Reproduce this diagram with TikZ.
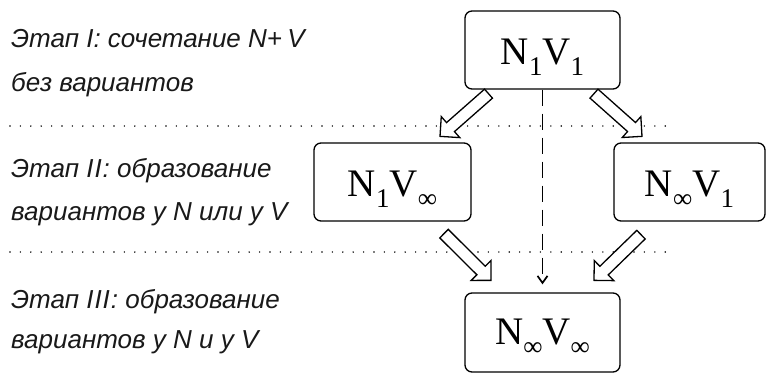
\documentclass[tikz,border=0pt]{standalone}
\usepackage{fontspec}
\setmainfont{Liberation Sans}
\newfontfamily\stagefont{Liberation Sans}
\newfontfamily\boxfont{Liberation Serif}
\usetikzlibrary{calc,arrows.meta}
\newcommand\lowsub[1]{\raisebox{-11pt}{\fontsize{27}{27}\selectfont #1}}
\newcommand\hollowarrow[2]{%
  \coordinate (hb) at ($(#2)!14pt!(#1)$);
  \draw[harrow] ($(#1)!6pt!-90:(#2)$) -- ($(hb)!6pt!-90:(#2)$) -- ($(hb)!14pt!-90:(#2)$) -- (#2)
    -- ($(hb)!14pt!90:(#2)$) -- ($(hb)!6pt!90:(#2)$) -- ($(#1)!6pt!90:(#2)$) -- cycle;}
\tikzset{
  stagebox/.style={draw, rounded corners=7pt, line width=1.3pt, minimum width=155pt, minimum height=78pt, inner sep=0pt},
  lbl/.style={anchor=base west, inner sep=0pt, text=black!90, font=\stagefont\fontsize{26}{26}\selectfont\itshape},
  boxtxt/.style={anchor=base, inner sep=0pt, font=\boxfont\fontsize{39}{39}\selectfont},
  harrow/.style={draw, fill=white, line width=1.3pt, line join=miter},
  dotline/.style={line width=1.6pt, line cap=round, dash pattern=on 0pt off 10.4pt},
  dashline/.style={line width=1.7pt, dash pattern=on 16pt off 8pt, -{Straight Barb[length=7pt,width=10pt]}}
}
\begin{document}
\begin{tikzpicture}[x=1pt,y=-1pt]
\useasboundingbox (0,0) rectangle (766,378);
% separators
\coordinate (d1a) at (10,126); \coordinate (d1b) at (668,126);
\coordinate (d2a) at (10,252); \coordinate (d2b) at (668,252);
\draw[dotline] (d1a) -- (d1b);
\draw[dotline] (d2a) -- (d2b);
% boxes
\node[stagebox] (top) at (542.5,50) {};
\node[stagebox, minimum width=157pt] (left) at (392.5,182) {};
\node[stagebox, minimum width=151pt] (right) at (689.5,182) {};
\node[stagebox, minimum height=79pt] (bot) at (542.5,332.5) {};
\node[boxtxt] (toptxt) at ([yshift=-14pt]top.center) {N\lowsub{1}V\lowsub{1}};
\node[boxtxt] (lefttxt) at ([yshift=-14pt]left.center) {N\lowsub{1}V\lowsub{∞}};
\node[boxtxt] (righttxt) at ([yshift=-14pt]right.center) {N\lowsub{∞}V\lowsub{1}};
\node[boxtxt] (bottxt) at ([yshift=-12pt]bot.center) {N\lowsub{∞}V\lowsub{∞}};
% dashed connector
\draw[dashline] (top.south) -- ($(bot.north)+(0,-8)$);
% hollow arrows
\coordinate (a1s) at ($(top.south)+(-54,4)$);  \coordinate (a1e) at ($(left.north)+(47.5,-6)$);
\coordinate (a2s) at ($(top.south)+(51.5,4)$); \coordinate (a2e) at ($(right.north)+(-47.5,-6)$);
\coordinate (a3s) at ($(left.south)+(51.5,12)$); \coordinate (a3e) at ($(bot.north)+(-51.5,-12)$);
\coordinate (a4s) at ($(right.south)+(-48.5,13)$); \coordinate (a4e) at ($(bot.north)+(51.5,-12)$);
\hollowarrow{a1s}{a1e}
\hollowarrow{a2s}{a2e}
\hollowarrow{a3s}{a3e}
\hollowarrow{a4s}{a4e}
% stage labels
\node[lbl] (s1a) at (11,47) {Этап I: сочетание N+\kern-2pt\ V};
\node[lbl] (s1b) at (11,91) {без вариантов};
\node[lbl] (s2a) at (11,177) {Этап I\kern1pt I\kern1pt: образование};
\node[lbl] (s2b) at (11,220) {вариантов у N или у V};
\node[lbl] (s3a) at (11,308) {Этап I\kern1pt I\kern1pt I\kern1pt: образование};
\node[lbl] (s3b) at (11,348) {вариантов у N и у V};
\end{tikzpicture}
\end{document}
